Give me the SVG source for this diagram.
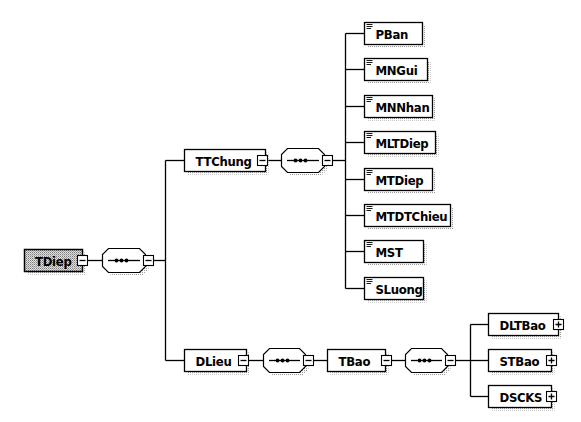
<svg xmlns="http://www.w3.org/2000/svg" width="581" height="422" viewBox="0 0 581 422">
<defs>
<pattern id="dots" width="2" height="2" patternUnits="userSpaceOnUse"><rect x="0" y="0" width="1" height="1" fill="#9a9a9a"/></pattern>
<pattern id="grey" width="2" height="2" patternUnits="userSpaceOnUse"><rect width="2" height="2" fill="#e0e0e0"/><rect x="0" y="0" width="1" height="1" fill="#7a7a7a"/><rect x="1" y="1" width="1" height="1" fill="#a8a8a8"/></pattern>
<style>
.box{fill:#fff;stroke:#000;stroke-width:1.3}
.root{fill:url(#grey);stroke:#000;stroke-width:1.5}
.sh{fill:url(#dots);stroke:none}
.btn{fill:#fff;stroke:#000;stroke-width:1.1}
.sgn{stroke:#000;stroke-width:1.3;fill:none}
.ico{stroke:#000;stroke-width:0.9}
.conn line{stroke:#000;stroke-width:1.3}
.lbl{font-family:"DejaVu Sans Condensed","DejaVu Sans","Liberation Sans",sans-serif;font-stretch:condensed;font-weight:bold;font-size:13px;letter-spacing:-0.3px;fill:#000}
.seq{fill:#fff;stroke:#000;stroke-width:1.2}
.dot{fill:#000}
</style>
</defs>
<rect width="581" height="422" fill="#fff"/>

<g id="connectors" class="conn">
<line x1="87.5" y1="260.5" x2="102.5" y2="260.5"/>
<line x1="153.5" y1="260.5" x2="165.5" y2="260.5"/>
<line x1="165.5" y1="160.5" x2="165.5" y2="360.5"/>
<line x1="165.5" y1="160.5" x2="184.5" y2="160.5"/>
<line x1="165.5" y1="360.5" x2="184.5" y2="360.5"/>
<line x1="267.5" y1="160.5" x2="281.5" y2="160.5"/>
<line x1="332.5" y1="160.5" x2="345.5" y2="160.5"/>
<line x1="345.5" y1="33.5" x2="345.5" y2="288.5"/>
<line x1="345.5" y1="33.5" x2="364.5" y2="33.5"/>
<line x1="345.5" y1="69.5" x2="364.5" y2="69.5"/>
<line x1="345.5" y1="106.5" x2="364.5" y2="106.5"/>
<line x1="345.5" y1="142.5" x2="364.5" y2="142.5"/>
<line x1="345.5" y1="179.5" x2="364.5" y2="179.5"/>
<line x1="345.5" y1="215.5" x2="364.5" y2="215.5"/>
<line x1="345.5" y1="251.5" x2="364.5" y2="251.5"/>
<line x1="345.5" y1="288.5" x2="364.5" y2="288.5"/>
<line x1="248.5" y1="360.5" x2="263.5" y2="360.5"/>
<line x1="313.5" y1="360.5" x2="327.5" y2="360.5"/>
<line x1="391.5" y1="360.5" x2="405.5" y2="360.5"/>
<line x1="455.5" y1="360.5" x2="470.5" y2="360.5"/>
<line x1="470.5" y1="324.5" x2="470.5" y2="396.5"/>
<line x1="470.5" y1="324.5" x2="488.5" y2="324.5"/>
<line x1="470.5" y1="360.5" x2="488.5" y2="360.5"/>
<line x1="470.5" y1="396.5" x2="488.5" y2="396.5"/>
</g>

<g id="TDiep">
<rect class="sh" x="27.5" y="252.5" width="58" height="22"/>
<rect class="root" x="24.5" y="249.5" width="58" height="22"/>
<text class="lbl" x="35" y="265.5">TDiep</text>
<rect class="btn" x="77.5" y="255.5" width="10" height="10"/>
<line class="sgn" x1="79.5" y1="260.5" x2="85.5" y2="260.5"/>
</g>

<g id="seq-TDiep">
<polygon class="sh" points="111.5,251.5 142.5,251.5 148.5,257.5 148.5,269.5 142.5,275.5 111.5,275.5 105.5,269.5 105.5,257.5"/>
<polygon class="seq" points="108.5,248.5 139.5,248.5 145.5,254.5 145.5,266.5 139.5,272.5 108.5,272.5 102.5,266.5 102.5,254.5"/>
<line class="sgn" x1="108" y1="260.5" x2="140" y2="260.5"/>
<circle class="dot" cx="116.5" cy="260.5" r="1.9"/><circle class="dot" cx="121.5" cy="260.5" r="1.9"/><circle class="dot" cx="126.5" cy="260.5" r="1.9"/>
<rect class="btn" x="143.5" y="255.5" width="10" height="10"/>
<line class="sgn" x1="145.5" y1="260.5" x2="151.5" y2="260.5"/>
</g>

<g id="TTChung">
<rect class="sh" x="187.5" y="152.5" width="81" height="22"/>
<rect class="box" x="184.5" y="149.5" width="81" height="22"/>
<text class="lbl" x="195.5" y="165.5">TTChung</text>
<rect class="btn" x="257.5" y="155.5" width="10" height="10"/>
<line class="sgn" x1="259.5" y1="160.5" x2="265.5" y2="160.5"/>
</g>

<g id="seq-TTChung">
<polygon class="sh" points="290.5,151.5 321.5,151.5 327.5,157.5 327.5,169.5 321.5,175.5 290.5,175.5 284.5,169.5 284.5,157.5"/>
<polygon class="seq" points="287.5,148.5 318.5,148.5 324.5,154.5 324.5,166.5 318.5,172.5 287.5,172.5 281.5,166.5 281.5,154.5"/>
<line class="sgn" x1="287" y1="160.5" x2="319" y2="160.5"/>
<circle class="dot" cx="295.5" cy="160.5" r="1.9"/><circle class="dot" cx="300.5" cy="160.5" r="1.9"/><circle class="dot" cx="305.5" cy="160.5" r="1.9"/>
<rect class="btn" x="322.5" y="155.5" width="10" height="10"/>
<line class="sgn" x1="324.5" y1="160.5" x2="330.5" y2="160.5"/>
</g>

<g id="PBan">
<rect class="sh" x="367.5" y="25.5" width="58" height="22"/>
<rect class="box" x="364.5" y="22.5" width="58" height="22"/>
<line class="ico" x1="366.5" y1="24.5" x2="372.5" y2="24.5"/><line class="ico" x1="366.5" y1="26.5" x2="372.5" y2="26.5"/><line class="ico" x1="366.5" y1="28.5" x2="371" y2="28.5"/>
<text class="lbl" x="375.5" y="38.5">PBan</text>
</g>

<g id="MNGui">
<rect class="sh" x="367.5" y="61.5" width="63" height="22"/>
<rect class="box" x="364.5" y="58.5" width="63" height="22"/>
<line class="ico" x1="366.5" y1="60.5" x2="372.5" y2="60.5"/><line class="ico" x1="366.5" y1="62.5" x2="372.5" y2="62.5"/><line class="ico" x1="366.5" y1="64.5" x2="371" y2="64.5"/>
<text class="lbl" x="375.5" y="74.5">MNGui</text>
</g>

<g id="MNNhan">
<rect class="sh" x="367.5" y="98.5" width="68" height="22"/>
<rect class="box" x="364.5" y="95.5" width="68" height="22"/>
<line class="ico" x1="366.5" y1="97.5" x2="372.5" y2="97.5"/><line class="ico" x1="366.5" y1="99.5" x2="372.5" y2="99.5"/><line class="ico" x1="366.5" y1="101.5" x2="371" y2="101.5"/>
<text class="lbl" x="375.5" y="111.5">MNNhan</text>
</g>

<g id="MLTDiep">
<rect class="sh" x="367.5" y="134.5" width="71" height="22"/>
<rect class="box" x="364.5" y="131.5" width="71" height="22"/>
<line class="ico" x1="366.5" y1="133.5" x2="372.5" y2="133.5"/><line class="ico" x1="366.5" y1="135.5" x2="372.5" y2="135.5"/><line class="ico" x1="366.5" y1="137.5" x2="371" y2="137.5"/>
<text class="lbl" x="375.5" y="147.5">MLTDiep</text>
</g>

<g id="MTDiep">
<rect class="sh" x="367.5" y="171.5" width="68" height="22"/>
<rect class="box" x="364.5" y="168.5" width="68" height="22"/>
<line class="ico" x1="366.5" y1="170.5" x2="372.5" y2="170.5"/><line class="ico" x1="366.5" y1="172.5" x2="372.5" y2="172.5"/><line class="ico" x1="366.5" y1="174.5" x2="371" y2="174.5"/>
<text class="lbl" x="375.5" y="184.5">MTDiep</text>
</g>

<g id="MTDTChieu">
<rect class="sh" x="367.5" y="207.5" width="86" height="22"/>
<rect class="box" x="364.5" y="204.5" width="86" height="22"/>
<line class="ico" x1="366.5" y1="206.5" x2="372.5" y2="206.5"/><line class="ico" x1="366.5" y1="208.5" x2="372.5" y2="208.5"/><line class="ico" x1="366.5" y1="210.5" x2="371" y2="210.5"/>
<text class="lbl" x="375.5" y="220.5">MTDTChieu</text>
</g>

<g id="MST">
<rect class="sh" x="367.5" y="243.5" width="59" height="22"/>
<rect class="box" x="364.5" y="240.5" width="59" height="22"/>
<line class="ico" x1="366.5" y1="242.5" x2="372.5" y2="242.5"/><line class="ico" x1="366.5" y1="244.5" x2="372.5" y2="244.5"/><line class="ico" x1="366.5" y1="246.5" x2="371" y2="246.5"/>
<text class="lbl" x="375.5" y="256.5">MST</text>
</g>

<g id="SLuong">
<rect class="sh" x="367.5" y="280.5" width="59" height="22"/>
<rect class="box" x="364.5" y="277.5" width="59" height="22"/>
<line class="ico" x1="366.5" y1="279.5" x2="372.5" y2="279.5"/><line class="ico" x1="366.5" y1="281.5" x2="372.5" y2="281.5"/><line class="ico" x1="366.5" y1="283.5" x2="371" y2="283.5"/>
<text class="lbl" x="375.5" y="293.5">SLuong</text>
</g>

<g id="DLieu">
<rect class="sh" x="187.5" y="352.5" width="62" height="22"/>
<rect class="box" x="184.5" y="349.5" width="62" height="22"/>
<text class="lbl" x="195.5" y="365.5">DLieu</text>
<rect class="btn" x="238.5" y="355.5" width="10" height="10"/>
<line class="sgn" x1="240.5" y1="360.5" x2="246.5" y2="360.5"/>
</g>

<g id="seq-DLieu">
<polygon class="sh" points="272.5,351.5 302.5,351.5 308.5,357.5 308.5,369.5 302.5,375.5 272.5,375.5 266.5,369.5 266.5,357.5"/>
<polygon class="seq" points="269.5,348.5 299.5,348.5 305.5,354.5 305.5,366.5 299.5,372.5 269.5,372.5 263.5,366.5 263.5,354.5"/>
<line class="sgn" x1="269" y1="360.5" x2="300" y2="360.5"/>
<circle class="dot" cx="277.5" cy="360.5" r="1.9"/><circle class="dot" cx="282.5" cy="360.5" r="1.9"/><circle class="dot" cx="287.5" cy="360.5" r="1.9"/>
<rect class="btn" x="303.5" y="355.5" width="10" height="10"/>
<line class="sgn" x1="305.5" y1="360.5" x2="311.5" y2="360.5"/>
</g>

<g id="TBao">
<rect class="sh" x="330.5" y="352.5" width="58" height="22"/>
<rect class="box" x="327.5" y="349.5" width="58" height="22"/>
<text class="lbl" x="338.5" y="365.5">TBao</text>
<rect class="btn" x="381.5" y="355.5" width="10" height="10"/>
<line class="sgn" x1="383.5" y1="360.5" x2="389.5" y2="360.5"/>
</g>

<g id="seq-TBao">
<polygon class="sh" points="414.5,351.5 444.5,351.5 450.5,357.5 450.5,369.5 444.5,375.5 414.5,375.5 408.5,369.5 408.5,357.5"/>
<polygon class="seq" points="411.5,348.5 441.5,348.5 447.5,354.5 447.5,366.5 441.5,372.5 411.5,372.5 405.5,366.5 405.5,354.5"/>
<line class="sgn" x1="411" y1="360.5" x2="442" y2="360.5"/>
<circle class="dot" cx="419.5" cy="360.5" r="1.9"/><circle class="dot" cx="424.5" cy="360.5" r="1.9"/><circle class="dot" cx="429.5" cy="360.5" r="1.9"/>
<rect class="btn" x="445.5" y="355.5" width="10" height="10"/>
<line class="sgn" x1="447.5" y1="360.5" x2="453.5" y2="360.5"/>
</g>

<g id="DLTBao">
<rect class="sh" x="491.5" y="316.5" width="70" height="22"/>
<rect class="box" x="488.5" y="313.5" width="70" height="22"/>
<text class="lbl" x="499.5" y="329.5">DLTBao</text>
<rect class="btn" x="553.5" y="319.5" width="10" height="10"/>
<path class="sgn" d="M555.5 324.5H561.5M558.5 321.5V327.5"/>
</g>

<g id="STBao">
<rect class="sh" x="491.5" y="352.5" width="63" height="22"/>
<rect class="box" x="488.5" y="349.5" width="63" height="22"/>
<text class="lbl" x="499.5" y="365.5">STBao</text>
<rect class="btn" x="546.5" y="355.5" width="10" height="10"/>
<path class="sgn" d="M548.5 360.5H554.5M551.5 357.5V363.5"/>
</g>

<g id="DSCKS">
<rect class="sh" x="491.5" y="388.5" width="63" height="22"/>
<rect class="box" x="488.5" y="385.5" width="63" height="22"/>
<text class="lbl" x="499.5" y="401.5">DSCKS</text>
<rect class="btn" x="546.5" y="391.5" width="10" height="10"/>
<path class="sgn" d="M548.5 396.5H554.5M551.5 393.5V399.5"/>
</g>
</svg>
